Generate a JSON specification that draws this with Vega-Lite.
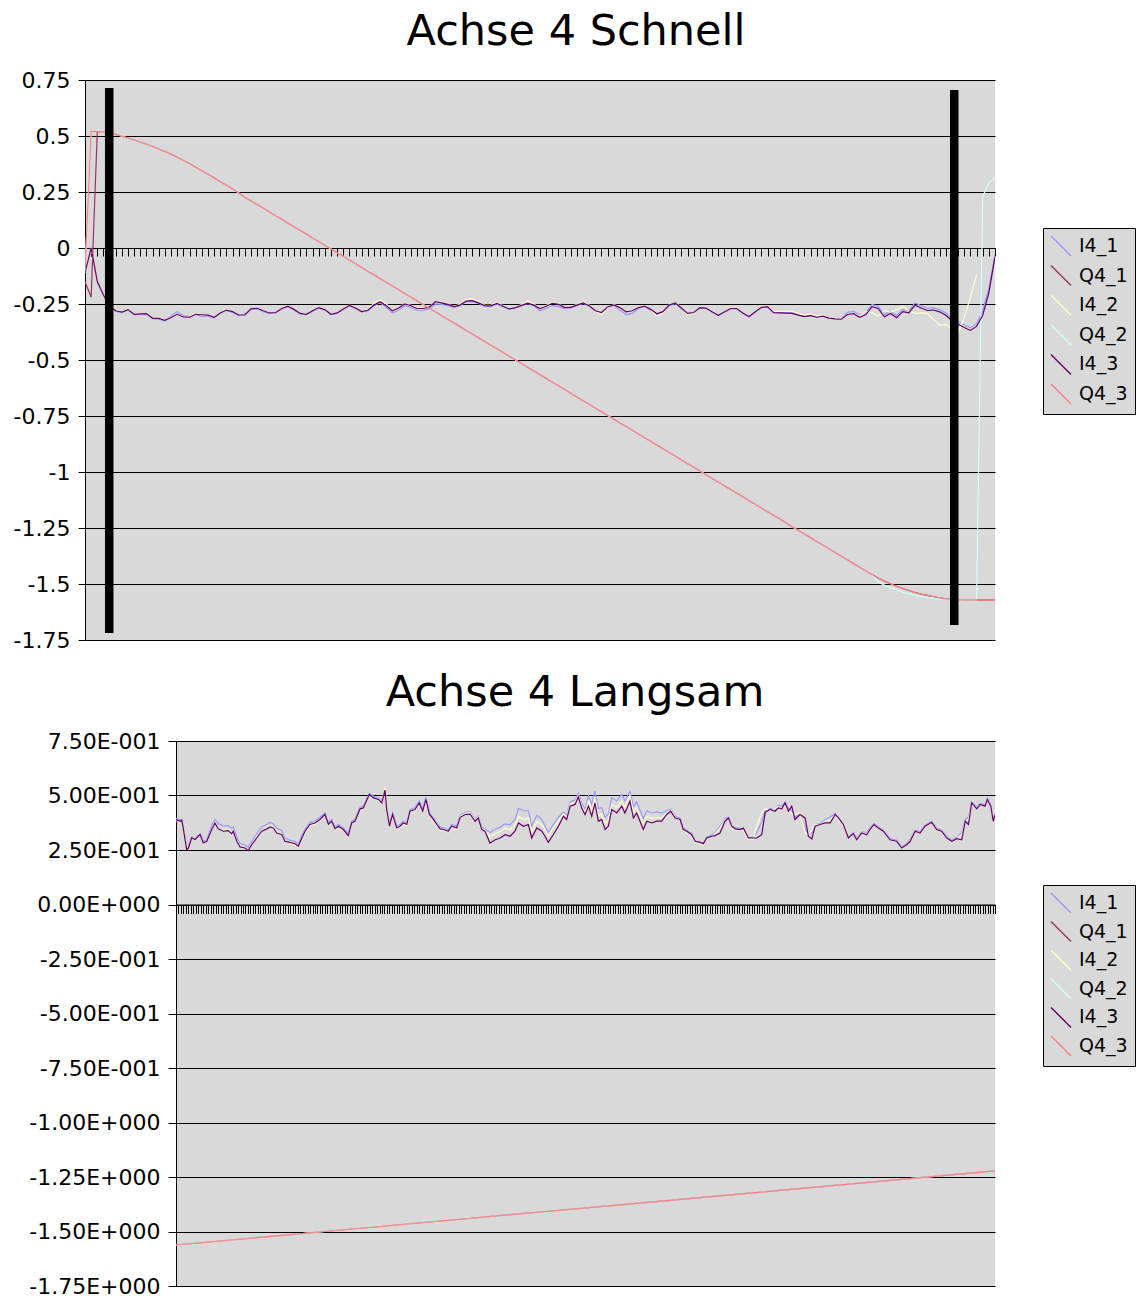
{
"$schema": "https://vega.github.io/schema/vega-lite/v6.json",
"padding": {"left": 0, "top": 11, "right": 0, "bottom": 0},
"spacing": 21,
"config": {
  "font": "DejaVu Sans",
  "view": {"fill": "#d9d9d9", "stroke": null},
  "title": {"font": "DejaVu Sans", "fontSize": 43, "fontWeight": "normal", "color": "black", "anchor": "middle"}
},
"resolve": {"scale": {"color": "independent", "x": "independent", "y": "independent"}, "legend": {"color": "independent"}},
"vconcat": [
{
  "width": 910, "height": 560,
  "title": {"text": "Achse 4 Schnell", "dx": 36, "offset": 15},
  "encoding": {"x": {"field": "k", "type": "quantitative", "scale": {"domain": [0, 148], "nice": false, "zero": false},
    "axis": {"orient": "bottom", "offset": -392, "tickCount": 148, "labels": false, "title": null, "grid": false, "domainColor": "black", "domainWidth": 1, "tickColor": "black", "tickSize": 8, "tickWidth": 1}}},
  "layer": [
  {
    "data": {"values": [
{"k":0,"I4_1":-0.11,"Q4_1":-0.15,"I4_2":-0.11,"Q4_2":-0.1,"I4_3":-0.11,"Q4_3":-0.1},
{"k":1,"I4_1":0.0,"Q4_1":-0.22,"I4_2":0.0,"Q4_2":0.52,"I4_3":0.0,"Q4_3":0.52},
{"k":2,"I4_1":-0.15,"Q4_1":0.52,"I4_2":-0.15,"Q4_2":0.52,"I4_3":-0.15,"Q4_3":0.52},
{"k":3,"I4_1":-0.21,"Q4_1":0.519,"I4_2":-0.21,"Q4_2":0.519,"I4_3":-0.21,"Q4_3":0.519},
{"k":4,"I4_1":-0.26,"Q4_1":0.514,"I4_2":-0.26,"Q4_2":0.514,"I4_3":-0.26,"Q4_3":0.514},
{"k":5,"I4_1":-0.283,"Q4_1":0.507,"I4_2":-0.278,"Q4_2":0.507,"I4_3":-0.28,"Q4_3":0.507},
{"k":6,"I4_1":-0.288,"Q4_1":0.499,"I4_2":-0.285,"Q4_2":0.499,"I4_3":-0.286,"Q4_3":0.499},
{"k":7,"I4_1":-0.277,"Q4_1":0.491,"I4_2":-0.274,"Q4_2":0.491,"I4_3":-0.275,"Q4_3":0.491},
{"k":8,"I4_1":-0.298,"Q4_1":0.482,"I4_2":-0.295,"Q4_2":0.482,"I4_3":-0.296,"Q4_3":0.482},
{"k":9,"I4_1":-0.297,"Q4_1":0.473,"I4_2":-0.293,"Q4_2":0.473,"I4_3":-0.294,"Q4_3":0.473},
{"k":10,"I4_1":-0.296,"Q4_1":0.464,"I4_2":-0.292,"Q4_2":0.464,"I4_3":-0.293,"Q4_3":0.464},
{"k":11,"I4_1":-0.316,"Q4_1":0.453,"I4_2":-0.313,"Q4_2":0.453,"I4_3":-0.314,"Q4_3":0.453},
{"k":12,"I4_1":-0.318,"Q4_1":0.442,"I4_2":-0.313,"Q4_2":0.442,"I4_3":-0.314,"Q4_3":0.442},
{"k":13,"I4_1":-0.326,"Q4_1":0.431,"I4_2":-0.322,"Q4_2":0.431,"I4_3":-0.323,"Q4_3":0.431},
{"k":14,"I4_1":-0.304,"Q4_1":0.419,"I4_2":-0.309,"Q4_2":0.419,"I4_3":-0.31,"Q4_3":0.419},
{"k":15,"I4_1":-0.284,"Q4_1":0.405,"I4_2":-0.296,"Q4_2":0.405,"I4_3":-0.296,"Q4_3":0.405},
{"k":16,"I4_1":-0.302,"Q4_1":0.391,"I4_2":-0.307,"Q4_2":0.391,"I4_3":-0.308,"Q4_3":0.391},
{"k":17,"I4_1":-0.309,"Q4_1":0.377,"I4_2":-0.306,"Q4_2":0.377,"I4_3":-0.309,"Q4_3":0.377},
{"k":18,"I4_1":-0.296,"Q4_1":0.361,"I4_2":-0.294,"Q4_2":0.361,"I4_3":-0.296,"Q4_3":0.361},
{"k":19,"I4_1":-0.306,"Q4_1":0.345,"I4_2":-0.297,"Q4_2":0.345,"I4_3":-0.298,"Q4_3":0.345},
{"k":20,"I4_1":-0.303,"Q4_1":0.329,"I4_2":-0.299,"Q4_2":0.329,"I4_3":-0.3,"Q4_3":0.329},
{"k":21,"I4_1":-0.312,"Q4_1":0.313,"I4_2":-0.308,"Q4_2":0.313,"I4_3":-0.309,"Q4_3":0.313},
{"k":22,"I4_1":-0.29,"Q4_1":0.296,"I4_2":-0.289,"Q4_2":0.296,"I4_3":-0.29,"Q4_3":0.296},
{"k":23,"I4_1":-0.279,"Q4_1":0.28,"I4_2":-0.275,"Q4_2":0.28,"I4_3":-0.277,"Q4_3":0.28},
{"k":24,"I4_1":-0.288,"Q4_1":0.264,"I4_2":-0.283,"Q4_2":0.264,"I4_3":-0.284,"Q4_3":0.264},
{"k":25,"I4_1":-0.303,"Q4_1":0.245,"I4_2":-0.298,"Q4_2":0.245,"I4_3":-0.299,"Q4_3":0.245},
{"k":26,"I4_1":-0.294,"Q4_1":0.227,"I4_2":-0.3,"Q4_2":0.227,"I4_3":-0.299,"Q4_3":0.227},
{"k":27,"I4_1":-0.272,"Q4_1":0.21,"I4_2":-0.271,"Q4_2":0.21,"I4_3":-0.272,"Q4_3":0.21},
{"k":28,"I4_1":-0.271,"Q4_1":0.194,"I4_2":-0.268,"Q4_2":0.194,"I4_3":-0.269,"Q4_3":0.194},
{"k":29,"I4_1":-0.284,"Q4_1":0.177,"I4_2":-0.279,"Q4_2":0.177,"I4_3":-0.28,"Q4_3":0.177},
{"k":30,"I4_1":-0.292,"Q4_1":0.161,"I4_2":-0.289,"Q4_2":0.161,"I4_3":-0.29,"Q4_3":0.161},
{"k":31,"I4_1":-0.29,"Q4_1":0.144,"I4_2":-0.287,"Q4_2":0.144,"I4_3":-0.288,"Q4_3":0.144},
{"k":32,"I4_1":-0.272,"Q4_1":0.128,"I4_2":-0.268,"Q4_2":0.128,"I4_3":-0.27,"Q4_3":0.128},
{"k":33,"I4_1":-0.262,"Q4_1":0.111,"I4_2":-0.259,"Q4_2":0.111,"I4_3":-0.26,"Q4_3":0.111},
{"k":34,"I4_1":-0.277,"Q4_1":0.095,"I4_2":-0.273,"Q4_2":0.095,"I4_3":-0.274,"Q4_3":0.095},
{"k":35,"I4_1":-0.294,"Q4_1":0.078,"I4_2":-0.291,"Q4_2":0.078,"I4_3":-0.292,"Q4_3":0.078},
{"k":36,"I4_1":-0.297,"Q4_1":0.062,"I4_2":-0.295,"Q4_2":0.062,"I4_3":-0.296,"Q4_3":0.062},
{"k":37,"I4_1":-0.283,"Q4_1":0.045,"I4_2":-0.279,"Q4_2":0.045,"I4_3":-0.28,"Q4_3":0.045},
{"k":38,"I4_1":-0.27,"Q4_1":0.029,"I4_2":-0.264,"Q4_2":0.029,"I4_3":-0.266,"Q4_3":0.029},
{"k":39,"I4_1":-0.277,"Q4_1":0.012,"I4_2":-0.274,"Q4_2":0.012,"I4_3":-0.275,"Q4_3":0.012},
{"k":40,"I4_1":-0.297,"Q4_1":-0.004,"I4_2":-0.295,"Q4_2":-0.004,"I4_3":-0.296,"Q4_3":-0.004},
{"k":41,"I4_1":-0.292,"Q4_1":-0.021,"I4_2":-0.289,"Q4_2":-0.021,"I4_3":-0.29,"Q4_3":-0.021},
{"k":42,"I4_1":-0.275,"Q4_1":-0.037,"I4_2":-0.27,"Q4_2":-0.037,"I4_3":-0.272,"Q4_3":-0.037},
{"k":43,"I4_1":-0.259,"Q4_1":-0.054,"I4_2":-0.255,"Q4_2":-0.054,"I4_3":-0.256,"Q4_3":-0.054},
{"k":44,"I4_1":-0.27,"Q4_1":-0.07,"I4_2":-0.266,"Q4_2":-0.07,"I4_3":-0.268,"Q4_3":-0.07},
{"k":45,"I4_1":-0.286,"Q4_1":-0.087,"I4_2":-0.283,"Q4_2":-0.087,"I4_3":-0.284,"Q4_3":-0.087},
{"k":46,"I4_1":-0.28,"Q4_1":-0.104,"I4_2":-0.276,"Q4_2":-0.104,"I4_3":-0.278,"Q4_3":-0.104},
{"k":47,"I4_1":-0.258,"Q4_1":-0.12,"I4_2":-0.246,"Q4_2":-0.12,"I4_3":-0.255,"Q4_3":-0.12},
{"k":48,"I4_1":-0.243,"Q4_1":-0.137,"I4_2":-0.232,"Q4_2":-0.137,"I4_3":-0.24,"Q4_3":-0.137},
{"k":49,"I4_1":-0.266,"Q4_1":-0.153,"I4_2":-0.25,"Q4_2":-0.153,"I4_3":-0.258,"Q4_3":-0.153},
{"k":50,"I4_1":-0.29,"Q4_1":-0.17,"I4_2":-0.278,"Q4_2":-0.17,"I4_3":-0.28,"Q4_3":-0.17},
{"k":51,"I4_1":-0.278,"Q4_1":-0.186,"I4_2":-0.265,"Q4_2":-0.186,"I4_3":-0.268,"Q4_3":-0.186},
{"k":52,"I4_1":-0.258,"Q4_1":-0.203,"I4_2":-0.248,"Q4_2":-0.203,"I4_3":-0.25,"Q4_3":-0.203},
{"k":53,"I4_1":-0.266,"Q4_1":-0.219,"I4_2":-0.256,"Q4_2":-0.219,"I4_3":-0.258,"Q4_3":-0.219},
{"k":54,"I4_1":-0.278,"Q4_1":-0.236,"I4_2":-0.268,"Q4_2":-0.236,"I4_3":-0.27,"Q4_3":-0.236},
{"k":55,"I4_1":-0.279,"Q4_1":-0.252,"I4_2":-0.268,"Q4_2":-0.252,"I4_3":-0.27,"Q4_3":-0.252},
{"k":56,"I4_1":-0.272,"Q4_1":-0.269,"I4_2":-0.262,"Q4_2":-0.269,"I4_3":-0.264,"Q4_3":-0.269},
{"k":57,"I4_1":-0.25,"Q4_1":-0.285,"I4_2":-0.238,"Q4_2":-0.285,"I4_3":-0.24,"Q4_3":-0.285},
{"k":58,"I4_1":-0.252,"Q4_1":-0.302,"I4_2":-0.242,"Q4_2":-0.302,"I4_3":-0.245,"Q4_3":-0.302},
{"k":59,"I4_1":-0.257,"Q4_1":-0.318,"I4_2":-0.25,"Q4_2":-0.318,"I4_3":-0.252,"Q4_3":-0.318},
{"k":60,"I4_1":-0.265,"Q4_1":-0.335,"I4_2":-0.26,"Q4_2":-0.335,"I4_3":-0.262,"Q4_3":-0.335},
{"k":61,"I4_1":-0.258,"Q4_1":-0.351,"I4_2":-0.252,"Q4_2":-0.351,"I4_3":-0.255,"Q4_3":-0.351},
{"k":62,"I4_1":-0.24,"Q4_1":-0.368,"I4_2":-0.229,"Q4_2":-0.368,"I4_3":-0.237,"Q4_3":-0.368},
{"k":63,"I4_1":-0.238,"Q4_1":-0.384,"I4_2":-0.227,"Q4_2":-0.384,"I4_3":-0.235,"Q4_3":-0.384},
{"k":64,"I4_1":-0.248,"Q4_1":-0.401,"I4_2":-0.238,"Q4_2":-0.401,"I4_3":-0.245,"Q4_3":-0.401},
{"k":65,"I4_1":-0.26,"Q4_1":-0.417,"I4_2":-0.255,"Q4_2":-0.417,"I4_3":-0.257,"Q4_3":-0.417},
{"k":66,"I4_1":-0.261,"Q4_1":-0.434,"I4_2":-0.256,"Q4_2":-0.434,"I4_3":-0.258,"Q4_3":-0.434},
{"k":67,"I4_1":-0.25,"Q4_1":-0.45,"I4_2":-0.244,"Q4_2":-0.45,"I4_3":-0.247,"Q4_3":-0.45},
{"k":68,"I4_1":-0.262,"Q4_1":-0.467,"I4_2":-0.258,"Q4_2":-0.467,"I4_3":-0.26,"Q4_3":-0.467},
{"k":69,"I4_1":-0.274,"Q4_1":-0.483,"I4_2":-0.27,"Q4_2":-0.483,"I4_3":-0.272,"Q4_3":-0.483},
{"k":70,"I4_1":-0.268,"Q4_1":-0.5,"I4_2":-0.264,"Q4_2":-0.5,"I4_3":-0.266,"Q4_3":-0.5},
{"k":71,"I4_1":-0.258,"Q4_1":-0.516,"I4_2":-0.253,"Q4_2":-0.516,"I4_3":-0.256,"Q4_3":-0.516},
{"k":72,"I4_1":-0.248,"Q4_1":-0.533,"I4_2":-0.236,"Q4_2":-0.533,"I4_3":-0.246,"Q4_3":-0.533},
{"k":73,"I4_1":-0.258,"Q4_1":-0.549,"I4_2":-0.25,"Q4_2":-0.549,"I4_3":-0.255,"Q4_3":-0.549},
{"k":74,"I4_1":-0.28,"Q4_1":-0.566,"I4_2":-0.268,"Q4_2":-0.566,"I4_3":-0.27,"Q4_3":-0.566},
{"k":75,"I4_1":-0.27,"Q4_1":-0.582,"I4_2":-0.257,"Q4_2":-0.582,"I4_3":-0.26,"Q4_3":-0.582},
{"k":76,"I4_1":-0.257,"Q4_1":-0.599,"I4_2":-0.244,"Q4_2":-0.599,"I4_3":-0.247,"Q4_3":-0.599},
{"k":77,"I4_1":-0.262,"Q4_1":-0.615,"I4_2":-0.25,"Q4_2":-0.615,"I4_3":-0.252,"Q4_3":-0.615},
{"k":78,"I4_1":-0.272,"Q4_1":-0.632,"I4_2":-0.262,"Q4_2":-0.632,"I4_3":-0.265,"Q4_3":-0.632},
{"k":79,"I4_1":-0.268,"Q4_1":-0.648,"I4_2":-0.262,"Q4_2":-0.648,"I4_3":-0.265,"Q4_3":-0.648},
{"k":80,"I4_1":-0.257,"Q4_1":-0.665,"I4_2":-0.252,"Q4_2":-0.665,"I4_3":-0.255,"Q4_3":-0.665},
{"k":81,"I4_1":-0.247,"Q4_1":-0.682,"I4_2":-0.242,"Q4_2":-0.682,"I4_3":-0.245,"Q4_3":-0.682},
{"k":82,"I4_1":-0.26,"Q4_1":-0.698,"I4_2":-0.256,"Q4_2":-0.698,"I4_3":-0.258,"Q4_3":-0.698},
{"k":83,"I4_1":-0.282,"Q4_1":-0.715,"I4_2":-0.283,"Q4_2":-0.715,"I4_3":-0.28,"Q4_3":-0.715},
{"k":84,"I4_1":-0.29,"Q4_1":-0.731,"I4_2":-0.296,"Q4_2":-0.731,"I4_3":-0.288,"Q4_3":-0.731},
{"k":85,"I4_1":-0.266,"Q4_1":-0.748,"I4_2":-0.268,"Q4_2":-0.748,"I4_3":-0.263,"Q4_3":-0.748},
{"k":86,"I4_1":-0.256,"Q4_1":-0.764,"I4_2":-0.252,"Q4_2":-0.764,"I4_3":-0.254,"Q4_3":-0.764},
{"k":87,"I4_1":-0.278,"Q4_1":-0.781,"I4_2":-0.264,"Q4_2":-0.781,"I4_3":-0.266,"Q4_3":-0.781},
{"k":88,"I4_1":-0.297,"Q4_1":-0.797,"I4_2":-0.283,"Q4_2":-0.797,"I4_3":-0.285,"Q4_3":-0.797},
{"k":89,"I4_1":-0.292,"Q4_1":-0.814,"I4_2":-0.278,"Q4_2":-0.814,"I4_3":-0.28,"Q4_3":-0.814},
{"k":90,"I4_1":-0.27,"Q4_1":-0.83,"I4_2":-0.264,"Q4_2":-0.83,"I4_3":-0.266,"Q4_3":-0.83},
{"k":91,"I4_1":-0.262,"Q4_1":-0.847,"I4_2":-0.257,"Q4_2":-0.847,"I4_3":-0.259,"Q4_3":-0.847},
{"k":92,"I4_1":-0.279,"Q4_1":-0.863,"I4_2":-0.276,"Q4_2":-0.863,"I4_3":-0.274,"Q4_3":-0.863},
{"k":93,"I4_1":-0.296,"Q4_1":-0.88,"I4_2":-0.304,"Q4_2":-0.88,"I4_3":-0.294,"Q4_3":-0.88},
{"k":94,"I4_1":-0.286,"Q4_1":-0.896,"I4_2":-0.29,"Q4_2":-0.896,"I4_3":-0.284,"Q4_3":-0.896},
{"k":95,"I4_1":-0.258,"Q4_1":-0.913,"I4_2":-0.253,"Q4_2":-0.913,"I4_3":-0.255,"Q4_3":-0.913},
{"k":96,"I4_1":-0.248,"Q4_1":-0.929,"I4_2":-0.243,"Q4_2":-0.929,"I4_3":-0.245,"Q4_3":-0.929},
{"k":97,"I4_1":-0.27,"Q4_1":-0.946,"I4_2":-0.266,"Q4_2":-0.946,"I4_3":-0.268,"Q4_3":-0.946},
{"k":98,"I4_1":-0.294,"Q4_1":-0.963,"I4_2":-0.298,"Q4_2":-0.963,"I4_3":-0.292,"Q4_3":-0.963},
{"k":99,"I4_1":-0.29,"Q4_1":-0.979,"I4_2":-0.291,"Q4_2":-0.979,"I4_3":-0.288,"Q4_3":-0.979},
{"k":100,"I4_1":-0.268,"Q4_1":-0.996,"I4_2":-0.264,"Q4_2":-0.996,"I4_3":-0.266,"Q4_3":-0.996},
{"k":101,"I4_1":-0.27,"Q4_1":-1.012,"I4_2":-0.266,"Q4_2":-1.012,"I4_3":-0.268,"Q4_3":-1.012},
{"k":102,"I4_1":-0.287,"Q4_1":-1.029,"I4_2":-0.283,"Q4_2":-1.029,"I4_3":-0.285,"Q4_3":-1.029},
{"k":103,"I4_1":-0.302,"Q4_1":-1.045,"I4_2":-0.298,"Q4_2":-1.045,"I4_3":-0.3,"Q4_3":-1.045},
{"k":104,"I4_1":-0.287,"Q4_1":-1.062,"I4_2":-0.283,"Q4_2":-1.062,"I4_3":-0.285,"Q4_3":-1.062},
{"k":105,"I4_1":-0.272,"Q4_1":-1.078,"I4_2":-0.268,"Q4_2":-1.078,"I4_3":-0.27,"Q4_3":-1.078},
{"k":106,"I4_1":-0.272,"Q4_1":-1.095,"I4_2":-0.268,"Q4_2":-1.095,"I4_3":-0.27,"Q4_3":-1.095},
{"k":107,"I4_1":-0.292,"Q4_1":-1.111,"I4_2":-0.288,"Q4_2":-1.111,"I4_3":-0.29,"Q4_3":-1.111},
{"k":108,"I4_1":-0.308,"Q4_1":-1.128,"I4_2":-0.304,"Q4_2":-1.128,"I4_3":-0.306,"Q4_3":-1.128},
{"k":109,"I4_1":-0.287,"Q4_1":-1.144,"I4_2":-0.283,"Q4_2":-1.144,"I4_3":-0.285,"Q4_3":-1.144},
{"k":110,"I4_1":-0.267,"Q4_1":-1.161,"I4_2":-0.263,"Q4_2":-1.161,"I4_3":-0.265,"Q4_3":-1.161},
{"k":111,"I4_1":-0.264,"Q4_1":-1.177,"I4_2":-0.26,"Q4_2":-1.177,"I4_3":-0.262,"Q4_3":-1.177},
{"k":112,"I4_1":-0.287,"Q4_1":-1.194,"I4_2":-0.284,"Q4_2":-1.194,"I4_3":-0.289,"Q4_3":-1.194},
{"k":113,"I4_1":-0.288,"Q4_1":-1.21,"I4_2":-0.283,"Q4_2":-1.21,"I4_3":-0.29,"Q4_3":-1.21},
{"k":114,"I4_1":-0.289,"Q4_1":-1.227,"I4_2":-0.282,"Q4_2":-1.227,"I4_3":-0.291,"Q4_3":-1.227},
{"k":115,"I4_1":-0.29,"Q4_1":-1.244,"I4_2":-0.282,"Q4_2":-1.244,"I4_3":-0.292,"Q4_3":-1.244},
{"k":116,"I4_1":-0.298,"Q4_1":-1.26,"I4_2":-0.292,"Q4_2":-1.26,"I4_3":-0.3,"Q4_3":-1.26},
{"k":117,"I4_1":-0.304,"Q4_1":-1.277,"I4_2":-0.3,"Q4_2":-1.277,"I4_3":-0.306,"Q4_3":-1.277},
{"k":118,"I4_1":-0.3,"Q4_1":-1.293,"I4_2":-0.294,"Q4_2":-1.293,"I4_3":-0.302,"Q4_3":-1.293},
{"k":119,"I4_1":-0.307,"Q4_1":-1.31,"I4_2":-0.304,"Q4_2":-1.31,"I4_3":-0.309,"Q4_3":-1.31},
{"k":120,"I4_1":-0.302,"Q4_1":-1.326,"I4_2":-0.3,"Q4_2":-1.326,"I4_3":-0.304,"Q4_3":-1.326},
{"k":121,"I4_1":-0.311,"Q4_1":-1.343,"I4_2":-0.31,"Q4_2":-1.343,"I4_3":-0.313,"Q4_3":-1.343},
{"k":122,"I4_1":-0.314,"Q4_1":-1.359,"I4_2":-0.314,"Q4_2":-1.359,"I4_3":-0.316,"Q4_3":-1.359},
{"k":123,"I4_1":-0.316,"Q4_1":-1.376,"I4_2":-0.316,"Q4_2":-1.376,"I4_3":-0.318,"Q4_3":-1.376},
{"k":124,"I4_1":-0.287,"Q4_1":-1.392,"I4_2":-0.296,"Q4_2":-1.392,"I4_3":-0.297,"Q4_3":-1.392},
{"k":125,"I4_1":-0.283,"Q4_1":-1.409,"I4_2":-0.292,"Q4_2":-1.409,"I4_3":-0.293,"Q4_3":-1.409},
{"k":126,"I4_1":-0.299,"Q4_1":-1.425,"I4_2":-0.305,"Q4_2":-1.425,"I4_3":-0.309,"Q4_3":-1.425},
{"k":127,"I4_1":-0.287,"Q4_1":-1.442,"I4_2":-0.283,"Q4_2":-1.442,"I4_3":-0.297,"Q4_3":-1.442},
{"k":128,"I4_1":-0.252,"Q4_1":-1.458,"I4_2":-0.289,"Q4_2":-1.458,"I4_3":-0.262,"Q4_3":-1.458},
{"k":129,"I4_1":-0.26,"Q4_1":-1.473,"I4_2":-0.304,"Q4_2":-1.49,"I4_3":-0.27,"Q4_3":-1.473},
{"k":130,"I4_1":-0.297,"Q4_1":-1.487,"I4_2":-0.28,"Q4_2":-1.505,"I4_3":-0.307,"Q4_3":-1.487},
{"k":131,"I4_1":-0.282,"Q4_1":-1.499,"I4_2":-0.286,"Q4_2":-1.517,"I4_3":-0.292,"Q4_3":-1.499},
{"k":132,"I4_1":-0.301,"Q4_1":-1.51,"I4_2":-0.275,"Q4_2":-1.527,"I4_3":-0.311,"Q4_3":-1.51},
{"k":133,"I4_1":-0.274,"Q4_1":-1.52,"I4_2":-0.262,"Q4_2":-1.536,"I4_3":-0.284,"Q4_3":-1.52},
{"k":134,"I4_1":-0.279,"Q4_1":-1.529,"I4_2":-0.28,"Q4_2":-1.543,"I4_3":-0.289,"Q4_3":-1.529},
{"k":135,"I4_1":-0.245,"Q4_1":-1.538,"I4_2":-0.292,"Q4_2":-1.55,"I4_3":-0.255,"Q4_3":-1.538},
{"k":136,"I4_1":-0.258,"Q4_1":-1.545,"I4_2":-0.29,"Q4_2":-1.556,"I4_3":-0.268,"Q4_3":-1.545},
{"k":137,"I4_1":-0.269,"Q4_1":-1.551,"I4_2":-0.292,"Q4_2":-1.56,"I4_3":-0.279,"Q4_3":-1.551},
{"k":138,"I4_1":-0.267,"Q4_1":-1.557,"I4_2":-0.32,"Q4_2":-1.563,"I4_3":-0.277,"Q4_3":-1.557},
{"k":139,"I4_1":-0.275,"Q4_1":-1.562,"I4_2":-0.344,"Q4_2":-1.566,"I4_3":-0.285,"Q4_3":-1.562},
{"k":140,"I4_1":-0.29,"Q4_1":-1.566,"I4_2":-0.342,"Q4_2":-1.568,"I4_3":-0.3,"Q4_3":-1.566},
{"k":141,"I4_1":-0.313,"Q4_1":-1.568,"I4_2":-0.36,"Q4_2":-1.57,"I4_3":-0.325,"Q4_3":-1.568},
{"k":142,"I4_1":-0.328,"Q4_1":-1.57,"I4_2":-0.378,"Q4_2":-1.571,"I4_3":-0.34,"Q4_3":-1.57},
{"k":143,"I4_1":-0.343,"Q4_1":-1.571,"I4_2":-0.31,"Q4_2":-1.571,"I4_3":-0.355,"Q4_3":-1.571},
{"k":144,"I4_1":-0.356,"Q4_1":-1.571,"I4_2":-0.22,"Q4_2":-1.571,"I4_3":-0.368,"Q4_3":-1.571},
{"k":145,"I4_1":-0.338,"Q4_1":-1.571,"I4_2":-0.12,"Q4_2":-1.571,"I4_3":-0.35,"Q4_3":-1.571},
{"k":146,"I4_1":-0.28,"Q4_1":-1.571,"Q4_2":0.23,"I4_3":-0.3,"Q4_3":-1.571},
{"k":147,"I4_1":-0.18,"Q4_1":-1.571,"Q4_2":0.29,"I4_3":-0.2,"Q4_3":-1.571},
{"k":148,"I4_1":-0.03,"Q4_1":-1.571,"Q4_2":0.315,"I4_3":-0.04,"Q4_3":-1.571}
    ]},
    "transform": [{"fold": ["I4_1", "Q4_1", "I4_2", "Q4_2", "I4_3", "Q4_3"], "as": ["series", "value"]}, {"filter": "isValid(datum.value)"}],
    "mark": {"type": "line", "strokeWidth": 1.2, "clip": true},
    "encoding": {
      "y": {"field": "value", "type": "quantitative", "scale": {"domain": [-1.75, 0.75], "nice": false, "zero": false},
        "axis": {"values": [-1.75, -1.5, -1.25, -1, -0.75, -0.5, -0.25, 0, 0.25, 0.5, 0.75], "title": null, "grid": true, "gridColor": "black", "gridOpacity": 1, "gridWidth": 1, "domainColor": "black", "domainWidth": 1, "tickColor": "black", "tickSize": 7, "labelFontSize": 22, "labelColor": "black", "labelFont": "DejaVu Sans", "labelPadding": 8, "labelExpr": "toString(datum.value)", "minExtent": 85}},
      "color": {"field": "series", "type": "nominal",
        "scale": {"domain": ["I4_1", "Q4_1", "I4_2", "Q4_2", "I4_3", "Q4_3"], "range": ["#9999ff", "#993366", "#ffffcc", "#ccffff", "#660066", "#ff8080"]},
        "legend": {"orient": "none", "legendX": 958, "legendY": 148, "direction": "vertical", "title": null, "labelFontSize": 19, "labelColor": "black", "labelFont": "DejaVu Sans", "symbolType": "M-1,-1L1,1", "symbolSize": 400, "symbolStrokeWidth": 1.4, "symbolOpacity": 1, "strokeColor": "black", "fillColor": "#d9d9d9", "padding": 7, "rowPadding": 3.6, "labelOffset": 7}}
    }
  },
  {
    "data": {"values": [{"k": 3.94, "top": 0.714, "bot": -1.719}, {"k": 141.37, "top": 0.705, "bot": -1.683}]},
    "mark": {"type": "rule", "strokeWidth": 8.5, "color": "black", "strokeCap": "butt"},
    "encoding": {
      "y": {"field": "top", "type": "quantitative", "scale": {"domain": [-1.75, 0.75], "nice": false, "zero": false},
        "axis": {"values": [-1.75, -1.5, -1.25, -1, -0.75, -0.5, -0.25, 0, 0.25, 0.5, 0.75], "title": null, "grid": true, "gridColor": "black", "gridOpacity": 1, "gridWidth": 1, "domainColor": "black", "domainWidth": 1, "tickColor": "black", "tickSize": 7, "labelFontSize": 22, "labelColor": "black", "labelFont": "DejaVu Sans", "labelPadding": 8, "labelExpr": "toString(datum.value)", "minExtent": 85}},
      "y2": {"field": "bot"}
    }
  }
  ]
},
{
"hconcat": [
{
  "width": 91, "height": 545,
  "view": {"fill": null, "stroke": null},
  "data": {"values": [{"a": 0}]},
  "mark": {"type": "point", "opacity": 0},
  "encoding": {}
},
{
  "width": 819, "height": 545,
  "title": {"text": "Achse 4 Langsam", "dx": -10.5, "offset": 15},
  "encoding": {"x": {"field": "k", "type": "quantitative", "scale": {"domain": [0, 330], "nice": false, "zero": false},
    "axis": {"orient": "bottom", "offset": -381.5, "tickCount": 330, "labels": false, "title": null, "grid": false, "domainColor": "black", "domainWidth": 1, "tickColor": "black", "tickSize": 9, "tickWidth": 1}},
    "y": {"field": "value", "type": "quantitative", "scale": {"domain": [-1.75, 0.75], "nice": false, "zero": false},
        "axis": {"values": [-1.75, -1.5, -1.25, -1, -0.75, -0.5, -0.25, 0, 0.25, 0.5, 0.75], "title": null, "grid": true, "gridColor": "black", "gridOpacity": 1, "gridWidth": 1, "domainColor": "black", "domainWidth": 1, "tickColor": "black", "tickSize": 8, "labelFontSize": 22, "labelColor": "black", "labelFont": "DejaVu Sans", "labelPadding": 8,
          "labelExpr": "(datum.value < 0 ? '-' : '') + (datum.value == 0 ? '0.00E+000' : (abs(datum.value) >= 1 ? format(abs(datum.value), '.2f') + 'E+000' : format(abs(datum.value) * 10, '.2f') + 'E-001'))", "minExtent": 176}},
    "color": {"field": "series", "type": "nominal",
        "scale": {"domain": ["I4_1", "Q4_1", "I4_2", "Q4_2", "I4_3", "Q4_3"], "range": ["#9999ff", "#993366", "#ffffcc", "#ccffff", "#660066", "#ff8080"]},
        "legend": {"orient": "none", "legendX": 958, "legendY": 144, "direction": "vertical", "title": null, "labelFontSize": 19, "labelColor": "black", "labelFont": "DejaVu Sans", "symbolType": "M-1,-1L1,1", "symbolSize": 400, "symbolStrokeWidth": 1.4, "symbolOpacity": 1, "strokeColor": "black", "fillColor": "#d9d9d9", "padding": 7, "rowPadding": 2.6, "labelOffset": 7}}
  },
  "layer": [
  {
    "data": {"values": [
{"k":0,"I4_1":0.395,"I4_2":0.385,"I4_3":0.39},
{"k":1.6,"I4_1":0.387,"I4_2":0.377,"I4_3":0.382},
{"k":2.3,"I4_1":0.391,"I4_2":0.381,"I4_3":0.386},
{"k":2.9,"I4_1":0.356,"I4_2":0.346,"I4_3":0.351},
{"k":4.3,"I4_1":0.257,"I4_2":0.255,"I4_3":0.252},
{"k":5.0,"I4_1":0.264,"I4_2":0.262,"I4_3":0.259},
{"k":6.3,"I4_1":0.31,"I4_2":0.3,"I4_3":0.305},
{"k":7.7,"I4_1":0.303,"I4_2":0.305,"I4_3":0.298},
{"k":9.0,"I4_1":0.318,"I4_2":0.31,"I4_3":0.313},
{"k":9.7,"I4_1":0.325,"I4_2":0.316,"I4_3":0.32},
{"k":11.0,"I4_1":0.29,"I4_2":0.28,"I4_3":0.282},
{"k":12.4,"I4_1":0.296,"I4_2":0.288,"I4_3":0.29},
{"k":14.4,"I4_1":0.365,"I4_2":0.348,"I4_3":0.344},
{"k":15.7,"I4_1":0.39,"I4_2":0.376,"I4_3":0.374},
{"k":17.0,"I4_1":0.372,"I4_2":0.352,"I4_3":0.347},
{"k":19.1,"I4_1":0.36,"I4_2":0.34,"I4_3":0.336},
{"k":21.1,"I4_1":0.362,"I4_2":0.343,"I4_3":0.339},
{"k":22.4,"I4_1":0.35,"I4_2":0.33,"I4_3":0.325},
{"k":23.1,"I4_1":0.355,"I4_2":0.338,"I4_3":0.336},
{"k":24.5,"I4_1":0.31,"I4_2":0.294,"I4_3":0.29},
{"k":25.8,"I4_1":0.28,"I4_2":0.266,"I4_3":0.264},
{"k":27.8,"I4_1":0.274,"I4_2":0.26,"I4_3":0.259},
{"k":29.1,"I4_1":0.262,"I4_2":0.25,"I4_3":0.247},
{"k":30.5,"I4_1":0.288,"I4_2":0.276,"I4_3":0.274},
{"k":32.5,"I4_1":0.325,"I4_2":0.31,"I4_3":0.305},
{"k":34.5,"I4_1":0.356,"I4_2":0.34,"I4_3":0.336},
{"k":36.6,"I4_1":0.368,"I4_2":0.352,"I4_3":0.347},
{"k":37.9,"I4_1":0.376,"I4_2":0.36,"I4_3":0.356},
{"k":39.2,"I4_1":0.37,"I4_2":0.355,"I4_3":0.351},
{"k":40.6,"I4_1":0.35,"I4_2":0.333,"I4_3":0.328},
{"k":42.6,"I4_1":0.34,"I4_2":0.325,"I4_3":0.321},
{"k":43.9,"I4_1":0.305,"I4_2":0.294,"I4_3":0.29},
{"k":45.9,"I4_1":0.295,"I4_2":0.28,"I4_3":0.285},
{"k":48.0,"I4_1":0.29,"I4_2":0.275,"I4_3":0.279},
{"k":49.3,"I4_1":0.277,"I4_2":0.262,"I4_3":0.267},
{"k":50.7,"I4_1":0.315,"I4_2":0.3,"I4_3":0.305},
{"k":52.0,"I4_1":0.346,"I4_2":0.33,"I4_3":0.336},
{"k":54.0,"I4_1":0.377,"I4_2":0.362,"I4_3":0.367},
{"k":56.0,"I4_1":0.384,"I4_2":0.37,"I4_3":0.374},
{"k":58.0,"I4_1":0.4,"I4_2":0.386,"I4_3":0.39},
{"k":60.0,"I4_1":0.42,"I4_2":0.408,"I4_3":0.413},
{"k":61.4,"I4_1":0.376,"I4_2":0.362,"I4_3":0.367},
{"k":62.7,"I4_1":0.39,"I4_2":0.378,"I4_3":0.382},
{"k":64.1,"I4_1":0.355,"I4_2":0.342,"I4_3":0.347},
{"k":65.4,"I4_1":0.367,"I4_2":0.354,"I4_3":0.359},
{"k":67.4,"I4_1":0.352,"I4_2":0.34,"I4_3":0.344},
{"k":69.4,"I4_1":0.324,"I4_2":0.312,"I4_3":0.316},
{"k":70.8,"I4_1":0.382,"I4_2":0.37,"I4_3":0.374},
{"k":72.1,"I4_1":0.39,"I4_2":0.378,"I4_3":0.382},
{"k":74.2,"I4_1":0.447,"I4_2":0.434,"I4_3":0.439},
{"k":75.5,"I4_1":0.452,"I4_2":0.438,"I4_3":0.443},
{"k":77.9,"I4_1":0.51,"I4_2":0.5,"I4_3":0.505},
{"k":79.5,"I4_1":0.497,"I4_2":0.485,"I4_3":0.489},
{"k":81.5,"I4_1":0.49,"I4_2":0.478,"I4_3":0.482},
{"k":82.9,"I4_1":0.474,"I4_2":0.47,"I4_3":0.466},
{"k":84.2,"I4_1":0.53,"I4_2":0.535,"I4_3":0.525},
{"k":84.9,"I4_1":0.444,"I4_2":0.45,"I4_3":0.436},
{"k":86.0,"I4_1":0.367,"I4_2":0.354,"I4_3":0.359},
{"k":87.3,"I4_1":0.421,"I4_2":0.408,"I4_3":0.413},
{"k":88.9,"I4_1":0.359,"I4_2":0.346,"I4_3":0.351},
{"k":90.3,"I4_1":0.367,"I4_2":0.354,"I4_3":0.359},
{"k":91.6,"I4_1":0.382,"I4_2":0.37,"I4_3":0.374},
{"k":93.0,"I4_1":0.375,"I4_2":0.362,"I4_3":0.367},
{"k":94.3,"I4_1":0.436,"I4_2":0.423,"I4_3":0.428},
{"k":96.3,"I4_1":0.444,"I4_2":0.432,"I4_3":0.436},
{"k":98.0,"I4_1":0.475,"I4_2":0.46,"I4_3":0.466},
{"k":99.4,"I4_1":0.436,"I4_2":0.424,"I4_3":0.428},
{"k":100.7,"I4_1":0.492,"I4_2":0.476,"I4_3":0.482},
{"k":102.1,"I4_1":0.421,"I4_2":0.408,"I4_3":0.413},
{"k":103.7,"I4_1":0.398,"I4_2":0.385,"I4_3":0.39},
{"k":105.1,"I4_1":0.375,"I4_2":0.362,"I4_3":0.367},
{"k":106.4,"I4_1":0.355,"I4_2":0.342,"I4_3":0.347},
{"k":107.7,"I4_1":0.352,"I4_2":0.34,"I4_3":0.344},
{"k":109.7,"I4_1":0.344,"I4_2":0.332,"I4_3":0.336},
{"k":111.1,"I4_1":0.367,"I4_2":0.354,"I4_3":0.359},
{"k":113.1,"I4_1":0.359,"I4_2":0.346,"I4_3":0.351},
{"k":114.5,"I4_1":0.41,"I4_2":0.405,"I4_3":0.4},
{"k":116.5,"I4_1":0.423,"I4_2":0.418,"I4_3":0.413},
{"k":118.5,"I4_1":0.425,"I4_2":0.42,"I4_3":0.415},
{"k":120.5,"I4_1":0.392,"I4_2":0.387,"I4_3":0.382},
{"k":121.8,"I4_1":0.407,"I4_2":0.402,"I4_3":0.397},
{"k":123.2,"I4_1":0.354,"I4_2":0.349,"I4_3":0.344},
{"k":124.5,"I4_1":0.346,"I4_2":0.341,"I4_3":0.336},
{"k":126.5,"I4_1":0.33,"I4_2":0.31,"I4_3":0.282},
{"k":128.6,"I4_1":0.345,"I4_2":0.325,"I4_3":0.297},
{"k":130.6,"I4_1":0.355,"I4_2":0.335,"I4_3":0.305},
{"k":132.6,"I4_1":0.37,"I4_2":0.35,"I4_3":0.32},
{"k":134.6,"I4_1":0.365,"I4_2":0.343,"I4_3":0.313},
{"k":136.6,"I4_1":0.39,"I4_2":0.366,"I4_3":0.336},
{"k":138.0,"I4_1":0.44,"I4_2":0.404,"I4_3":0.374},
{"k":140.0,"I4_1":0.43,"I4_2":0.39,"I4_3":0.359},
{"k":142.0,"I4_1":0.43,"I4_2":0.397,"I4_3":0.367},
{"k":143.3,"I4_1":0.36,"I4_2":0.335,"I4_3":0.305},
{"k":145.4,"I4_1":0.41,"I4_2":0.38,"I4_3":0.351},
{"k":147.4,"I4_1":0.39,"I4_2":0.366,"I4_3":0.336},
{"k":148.7,"I4_1":0.36,"I4_2":0.343,"I4_3":0.313},
{"k":150.0,"I4_1":0.33,"I4_2":0.315,"I4_3":0.285},
{"k":152.0,"I4_1":0.365,"I4_2":0.35,"I4_3":0.32},
{"k":154.1,"I4_1":0.4,"I4_2":0.385,"I4_3":0.359},
{"k":156.1,"I4_1":0.425,"I4_2":0.415,"I4_3":0.405},
{"k":157.4,"I4_1":0.41,"I4_2":0.4,"I4_3":0.39},
{"k":158.8,"I4_1":0.47,"I4_2":0.46,"I4_3":0.451},
{"k":160.8,"I4_1":0.48,"I4_2":0.47,"I4_3":0.459},
{"k":162.1,"I4_1":0.51,"I4_2":0.5,"I4_3":0.494},
{"k":163.5,"I4_1":0.465,"I4_2":0.453,"I4_3":0.443},
{"k":164.8,"I4_1":0.435,"I4_2":0.423,"I4_3":0.413},
{"k":166.2,"I4_1":0.5,"I4_2":0.476,"I4_3":0.451},
{"k":167.5,"I4_1":0.46,"I4_2":0.43,"I4_3":0.405},
{"k":168.8,"I4_1":0.52,"I4_2":0.49,"I4_3":0.466},
{"k":170.2,"I4_1":0.44,"I4_2":0.407,"I4_3":0.382},
{"k":171.5,"I4_1":0.445,"I4_2":0.415,"I4_3":0.39},
{"k":172.9,"I4_1":0.4,"I4_2":0.37,"I4_3":0.344},
{"k":174.2,"I4_1":0.415,"I4_2":0.384,"I4_3":0.359},
{"k":175.6,"I4_1":0.49,"I4_2":0.461,"I4_3":0.436},
{"k":177.6,"I4_1":0.475,"I4_2":0.445,"I4_3":0.42},
{"k":179.6,"I4_1":0.505,"I4_2":0.476,"I4_3":0.451},
{"k":180.9,"I4_1":0.475,"I4_2":0.445,"I4_3":0.42},
{"k":182.9,"I4_1":0.52,"I4_2":0.5,"I4_3":0.474},
{"k":184.3,"I4_1":0.45,"I4_2":0.422,"I4_3":0.397},
{"k":185.6,"I4_1":0.47,"I4_2":0.445,"I4_3":0.42},
{"k":188.3,"I4_1":0.395,"I4_2":0.37,"I4_3":0.344},
{"k":189.7,"I4_1":0.43,"I4_2":0.405,"I4_3":0.382},
{"k":191.7,"I4_1":0.42,"I4_2":0.395,"I4_3":0.374},
{"k":193.7,"I4_1":0.425,"I4_2":0.4,"I4_3":0.382},
{"k":195.7,"I4_1":0.42,"I4_2":0.395,"I4_3":0.382},
{"k":197.7,"I4_1":0.43,"I4_2":0.418,"I4_3":0.413},
{"k":199.3,"I4_1":0.438,"I4_2":0.433,"I4_3":0.428},
{"k":201.1,"I4_1":0.407,"I4_2":0.402,"I4_3":0.397},
{"k":203.1,"I4_1":0.395,"I4_2":0.385,"I4_3":0.39},
{"k":204.4,"I4_1":0.35,"I4_2":0.34,"I4_3":0.344},
{"k":205.8,"I4_1":0.34,"I4_2":0.33,"I4_3":0.336},
{"k":207.8,"I4_1":0.325,"I4_2":0.315,"I4_3":0.32},
{"k":209.2,"I4_1":0.29,"I4_2":0.285,"I4_3":0.29},
{"k":211.2,"I4_1":0.285,"I4_2":0.278,"I4_3":0.285},
{"k":212.5,"I4_1":0.28,"I4_2":0.272,"I4_3":0.279},
{"k":213.9,"I4_1":0.31,"I4_2":0.3,"I4_3":0.305},
{"k":215.9,"I4_1":0.318,"I4_2":0.31,"I4_3":0.313},
{"k":217.2,"I4_1":0.33,"I4_2":0.325,"I4_3":0.316},
{"k":219.2,"I4_1":0.36,"I4_2":0.35,"I4_3":0.328},
{"k":221.2,"I4_1":0.395,"I4_2":0.39,"I4_3":0.382},
{"k":222.6,"I4_1":0.4,"I4_2":0.39,"I4_3":0.397},
{"k":223.9,"I4_1":0.36,"I4_2":0.352,"I4_3":0.359},
{"k":225.3,"I4_1":0.35,"I4_2":0.342,"I4_3":0.347},
{"k":227.3,"I4_1":0.35,"I4_2":0.34,"I4_3":0.344},
{"k":228.6,"I4_1":0.345,"I4_2":0.34,"I4_3":0.351},
{"k":230.6,"I4_1":0.305,"I4_2":0.3,"I4_3":0.305},
{"k":232.6,"I4_1":0.31,"I4_2":0.3,"I4_3":0.305},
{"k":234.0,"I4_1":0.33,"I4_2":0.36,"I4_3":0.305},
{"k":236.0,"I4_1":0.38,"I4_2":0.42,"I4_3":0.32},
{"k":237.4,"I4_1":0.43,"I4_2":0.44,"I4_3":0.423},
{"k":239.4,"I4_1":0.44,"I4_2":0.43,"I4_3":0.436},
{"k":241.4,"I4_1":0.435,"I4_2":0.44,"I4_3":0.428},
{"k":242.7,"I4_1":0.455,"I4_2":0.45,"I4_3":0.443},
{"k":244.1,"I4_1":0.45,"I4_2":0.44,"I4_3":0.439},
{"k":245.4,"I4_1":0.47,"I4_2":0.455,"I4_3":0.466},
{"k":246.8,"I4_1":0.44,"I4_2":0.43,"I4_3":0.428},
{"k":248.1,"I4_1":0.43,"I4_2":0.42,"I4_3":0.451},
{"k":249.4,"I4_1":0.4,"I4_2":0.41,"I4_3":0.39},
{"k":251.4,"I4_1":0.42,"I4_2":0.42,"I4_3":0.413},
{"k":253.5,"I4_1":0.35,"I4_2":0.33,"I4_3":0.397},
{"k":254.8,"I4_1":0.32,"I4_2":0.32,"I4_3":0.313},
{"k":256.2,"I4_1":0.33,"I4_2":0.34,"I4_3":0.301},
{"k":257.5,"I4_1":0.37,"I4_2":0.37,"I4_3":0.359},
{"k":259.5,"I4_1":0.372,"I4_2":0.367,"I4_3":0.367},
{"k":261.5,"I4_1":0.39,"I4_2":0.38,"I4_3":0.374},
{"k":263.6,"I4_1":0.4,"I4_2":0.39,"I4_3":0.374},
{"k":265.6,"I4_1":0.418,"I4_2":0.41,"I4_3":0.413},
{"k":266.9,"I4_1":0.395,"I4_2":0.39,"I4_3":0.397},
{"k":268.9,"I4_1":0.35,"I4_2":0.355,"I4_3":0.367},
{"k":270.9,"I4_1":0.31,"I4_2":0.305,"I4_3":0.305},
{"k":272.9,"I4_1":0.33,"I4_2":0.325,"I4_3":0.325},
{"k":274.3,"I4_1":0.305,"I4_2":0.3,"I4_3":0.297},
{"k":276.3,"I4_1":0.333,"I4_2":0.328,"I4_3":0.328},
{"k":278.3,"I4_1":0.33,"I4_2":0.325,"I4_3":0.32},
{"k":279.6,"I4_1":0.35,"I4_2":0.345,"I4_3":0.344},
{"k":281.2,"I4_1":0.372,"I4_2":0.367,"I4_3":0.367},
{"k":283.0,"I4_1":0.356,"I4_2":0.351,"I4_3":0.351},
{"k":285.0,"I4_1":0.341,"I4_2":0.336,"I4_3":0.336},
{"k":287.7,"I4_1":0.302,"I4_2":0.297,"I4_3":0.297},
{"k":290.4,"I4_1":0.295,"I4_2":0.29,"I4_3":0.29},
{"k":292.4,"I4_1":0.264,"I4_2":0.259,"I4_3":0.259},
{"k":294.4,"I4_1":0.279,"I4_2":0.274,"I4_3":0.274},
{"k":295.8,"I4_1":0.3,"I4_2":0.295,"I4_3":0.29},
{"k":297.8,"I4_1":0.341,"I4_2":0.336,"I4_3":0.336},
{"k":299.8,"I4_1":0.333,"I4_2":0.328,"I4_3":0.328},
{"k":301.8,"I4_1":0.364,"I4_2":0.359,"I4_3":0.359},
{"k":304.5,"I4_1":0.382,"I4_2":0.377,"I4_3":0.377},
{"k":306.5,"I4_1":0.349,"I4_2":0.344,"I4_3":0.344},
{"k":308.5,"I4_1":0.341,"I4_2":0.336,"I4_3":0.336},
{"k":310.6,"I4_1":0.31,"I4_2":0.305,"I4_3":0.305},
{"k":312.6,"I4_1":0.295,"I4_2":0.29,"I4_3":0.29},
{"k":314.6,"I4_1":0.307,"I4_2":0.302,"I4_3":0.302},
{"k":316.6,"I4_1":0.33,"I4_2":0.32,"I4_3":0.297},
{"k":318.0,"I4_1":0.39,"I4_2":0.38,"I4_3":0.382},
{"k":319.3,"I4_1":0.4,"I4_2":0.39,"I4_3":0.367},
{"k":320.6,"I4_1":0.47,"I4_2":0.466,"I4_3":0.466},
{"k":322.7,"I4_1":0.444,"I4_2":0.439,"I4_3":0.439},
{"k":324.0,"I4_1":0.464,"I4_2":0.459,"I4_3":0.459},
{"k":326.0,"I4_1":0.456,"I4_2":0.451,"I4_3":0.451},
{"k":326.9,"I4_1":0.487,"I4_2":0.482,"I4_3":0.482},
{"k":328.3,"I4_1":0.456,"I4_2":0.451,"I4_3":0.451},
{"k":329.3,"I4_1":0.39,"I4_2":0.385,"I4_3":0.382},
{"k":330,"I4_1":0.415,"I4_2":0.41,"I4_3":0.41}
    ]},
    "transform": [{"fold": ["I4_1", "I4_2", "I4_3"], "as": ["series", "value"]}],
    "mark": {"type": "line", "strokeWidth": 1.2, "clip": true}
  },
  {
    "data": {"values": [
{"k":0,"Q4_1":-1.562,"Q4_2":-1.562,"Q4_3":-1.562},
{"k":30,"Q4_1":-1.531,"Q4_2":-1.531,"Q4_3":-1.531},
{"k":60,"Q4_1":-1.5,"Q4_2":-1.5,"Q4_3":-1.5},
{"k":90,"Q4_1":-1.469,"Q4_2":-1.469,"Q4_3":-1.469},
{"k":120,"Q4_1":-1.438,"Q4_2":-1.438,"Q4_3":-1.438},
{"k":150,"Q4_1":-1.407,"Q4_2":-1.407,"Q4_3":-1.407},
{"k":180,"Q4_1":-1.377,"Q4_2":-1.377,"Q4_3":-1.377},
{"k":210,"Q4_1":-1.346,"Q4_2":-1.346,"Q4_3":-1.346},
{"k":240,"Q4_1":-1.315,"Q4_2":-1.315,"Q4_3":-1.315},
{"k":270,"Q4_1":-1.284,"Q4_2":-1.284,"Q4_3":-1.284},
{"k":300,"Q4_1":-1.253,"Q4_2":-1.253,"Q4_3":-1.253},
{"k":330,"Q4_1":-1.222,"Q4_2":-1.222,"Q4_3":-1.222}
    ]},
    "transform": [{"fold": ["Q4_1", "Q4_2", "Q4_3"], "as": ["series", "value"]}],
    "mark": {"type": "line", "strokeWidth": 1.2, "clip": true}
  }
  ]
}
],
"spacing": 0,
"bounds": "flush"
}
]
}
